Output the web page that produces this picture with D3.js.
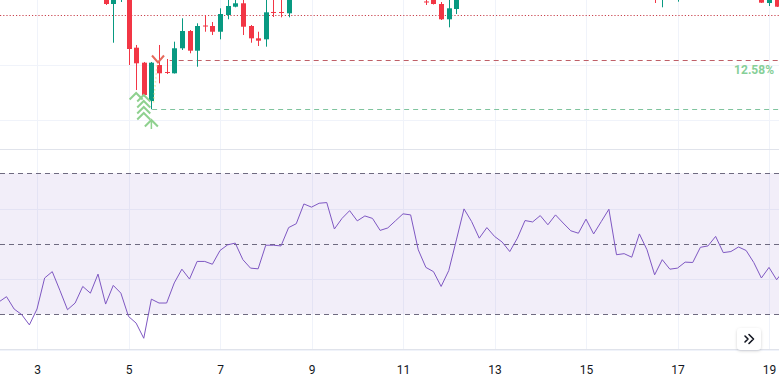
<!DOCTYPE html>
<html><head><meta charset="utf-8">
<script src="https://cdn.jsdelivr.net/npm/d3@7/dist/d3.min.js"></script>
<style>html,body{margin:0;padding:0;background:#fff;overflow:hidden}svg{display:block}</style>
</head><body>
<script>
// ---- data ----
const xTickDays = [3, 5, 7, 9, 11, 13, 15, 17, 19];
const rsiValues = [33.5,35.0,31.5,29.9,27.0,31.5,40.3,42.1,36.8,31.3,33.2,37.9,36.0,41.4,32.9,38.2,36.0,29.4,27.5,23.2,
34.3,33.2,33.2,38.9,42.8,40.0,45.0,45.0,44.2,48.1,49.7,50.2,45.5,43.1,42.9,49.6,49.6,49.4,54.6,55.7,
61.3,60.4,61.5,61.7,54.2,57.2,59.4,56.5,57.9,57.2,53.8,54.5,56.5,58.5,58.2,48.3,43.3,42.1,37.9,42.4,
51.1,59.9,56.3,51.6,54.6,52.1,50.5,47.8,51.6,56.6,56.2,58.0,55.4,58.2,55.9,53.7,53.0,57.0,52.8,56.3,
59.8,46.9,47.2,46.2,52.8,48.3,41.2,45.5,42.8,43.1,44.8,44.7,49.0,49.4,52.1,47.5,47.8,49.1,48.1,44.7,
40.3,43.3,39.8,42.6];
const rsiLevels = [70, 50, 30];
const rsiGrid = [60, 40, 20];
const priceGrid = [25, 26];
const candleIdx = [14,15,16,17,18,19,20,21,22,23,24,25,26,27,28,29,30,31,32,33,34,35,36,37,38,56,57,58,59,60,86,87,89,100,101,102];
const opens  = [27.273,27.109,27.327,27.273,26.315,26.042,25.345,26.000,25.873,25.849,26.304,26.618,26.260,26.718,26.709,26.605,26.909,27.060,27.122,26.709,26.485,26.467,26.964,26.964,26.940,27.155,27.236,27.109,26.831,27.018,27.455,27.327,27.364,27.291,27.127,27.255];
const highs  = [27.364,27.400,27.545,27.364,26.364,26.055,26.055,26.364,26.109,26.424,26.849,26.636,26.758,26.909,26.782,27.031,27.236,27.200,27.236,26.727,26.605,27.236,27.218,27.218,27.327,27.273,27.327,27.145,27.218,27.364,27.545,27.545,27.545,27.364,27.364,27.327];
const lows   = [27.091,26.405,27.145,26.000,25.545,25.418,25.195,25.667,25.836,25.845,26.273,26.213,25.969,26.605,26.545,26.467,26.831,27.049,26.545,26.405,26.345,26.333,26.873,26.867,26.867,27.091,27.100,26.818,26.685,26.927,27.127,27.049,27.151,27.127,27.073,27.055];
const closes = [27.109,27.291,27.455,26.291,26.031,25.455,26.042,25.849,25.855,26.304,26.618,26.260,26.709,26.700,26.605,26.927,27.073,27.122,26.696,26.485,26.442,26.958,26.951,26.951,27.255,27.145,27.109,26.831,27.031,27.291,27.327,27.455,27.509,27.133,27.273,27.060];
const lastPrice = 26.909;
const levelLines = [{price: 26.085, from: 22.4, color: "#bf5f68"}, {price: 25.195, from: 20.1, color: "#7fc49e"}];
const levelLabel = "12.58%";
const buySignals = [{i: 18, p: 25.436}, {i: 19, p: 25.40}, {i: 19, p: 25.291}, {i: 19, p: 25.182}, {i: 19, p: 25.073}, {i: 20, p: 24.945}];
const sellSignals = [{i: 21, p: 26.10}];

// ---- layout ----
const W = 779, H = 377;
const paneSplit = 149.5, axisTop = 350;
const t0 = Date.UTC(2024, 2, 2, 4), barMs = 4 * 3600e3;
const tOf = i => new Date(t0 + i * barMs);

const x = d3.scaleUtc().domain([new Date(Date.UTC(2024, 2, 3)), new Date(Date.UTC(2024, 2, 19))]).range([37, 769]);
const yP = d3.scaleLinear().domain([25, 26]).range([120, 65]);
const yR = d3.scaleLinear().domain([30, 70]).range([314.3, 173.3]);

const svg = d3.select("body").append("svg").attr("width", W).attr("height", H)
  .style("font-family", "Roboto, 'Liberation Sans', sans-serif");
svg.append("rect").attr("width", W).attr("height", H).attr("fill", "#fff");

const defs = svg.append("defs");
defs.append("clipPath").attr("id", "cTop").append("rect").attr("x", 0).attr("y", 0).attr("width", W).attr("height", paneSplit);
defs.append("clipPath").attr("id", "cRsi").append("rect").attr("x", 0).attr("y", paneSplit).attr("width", W).attr("height", axisTop - paneSplit);
const flt = defs.append("filter").attr("id", "sh").attr("x", "-50%").attr("y", "-50%").attr("width", "200%").attr("height", "200%");
flt.append("feDropShadow").attr("dx", 0).attr("dy", 1).attr("stdDeviation", 1.5).attr("flood-color", "#000").attr("flood-opacity", 0.18);

const tickDates = xTickDays.map(d => new Date(Date.UTC(2024, 2, d)));
const gridColor = "#f0f3fa";

// vertical grid
svg.append("g").selectAll("line").data(tickDates).join("line")
  .attr("x1", d => Math.round(x(d)) + 0.5).attr("x2", d => Math.round(x(d)) + 0.5)
  .attr("y1", 0).attr("y2", axisTop).attr("stroke", gridColor);

// price grid
svg.append("g").selectAll("line").data(priceGrid).join("line")
  .attr("x1", 0).attr("x2", W).attr("y1", d => Math.round(yP(d)) + 0.5).attr("y2", d => Math.round(yP(d)) + 0.5)
  .attr("stroke", gridColor);

// rsi grid
svg.append("g").selectAll("line").data(rsiGrid).join("line")
  .attr("x1", 0).attr("x2", W).attr("y1", d => Math.round(yR(d)) + 0.5).attr("y2", d => Math.round(yR(d)) + 0.5)
  .attr("stroke", gridColor);

// pane separators
svg.append("line").attr("x1", 0).attr("x2", W).attr("y1", paneSplit).attr("y2", paneSplit).attr("stroke", "#e0e3eb");
svg.append("line").attr("x1", 0).attr("x2", W).attr("y1", axisTop - 0.5).attr("y2", axisTop - 0.5).attr("stroke", "#e0e3eb");

// ---- top pane ----
const topG = svg.append("g").attr("clip-path", "url(#cTop)");
topG.append("line").attr("x1", 0).attr("x2", W).attr("y1", Math.round(yP(lastPrice)) + 0.5).attr("y2", Math.round(yP(lastPrice)) + 0.5)
  .attr("stroke", "#c9444f").attr("stroke-dasharray", "1.2,2").attr("stroke-width", 1);

levelLines.forEach(l => {
  topG.append("line").attr("x1", x(tOf(l.from))).attr("x2", W)
    .attr("y1", Math.round(yP(l.price)) + 0.5).attr("y2", Math.round(yP(l.price)) + 0.5)
    .attr("stroke", l.color).attr("stroke-dasharray", "5,4").attr("stroke-width", 1);
});
topG.append("text").attr("x", 774).attr("y", 74).attr("text-anchor", "end")
  .attr("font-size", 12).attr("font-weight", "bold").attr("fill", "#86cf98").text(levelLabel);

const candles = candleIdx.map((k, j) => ({k, o: opens[j], h: highs[j], l: lows[j], c: closes[j]}));
const cg = topG.append("g").selectAll("g").data(candles).join("g");
const colorOf = d => d.c >= d.o ? "#089981" : "#f23645";
cg.append("line").attr("x1", d => Math.round(x(tOf(d.k))) + 0.5).attr("x2", d => Math.round(x(tOf(d.k))) + 0.5)
  .attr("y1", d => yP(d.h)).attr("y2", d => yP(d.l)).attr("stroke", colorOf);
cg.append("rect").attr("x", d => Math.round(x(tOf(d.k))) - 2).attr("width", 5)
  .attr("y", d => yP(Math.max(d.o, d.c)))
  .attr("height", d => Math.max(1, Math.abs(yP(d.o) - yP(d.c))))
  .attr("fill", colorOf);

// dotted connector
topG.append("line").attr("x1", x(tOf(sellSignals[0].i)) - 2).attr("y1", yP(sellSignals[0].p) + 6)
  .attr("x2", x(tOf(buySignals[5].i)) + 2).attr("y2", yP(buySignals[3].p) - 6)
  .attr("stroke", "#e8dc7a").attr("stroke-width", 1.5).attr("stroke-dasharray", "1,3");

// buy chevrons
topG.append("g").selectAll("path").data(buySignals).join("path")
  .attr("d", d => {
    const cx = x(tOf(d.i)), cy = yP(d.p);
    return `M${cx - 6.5},${cy + 3.5}L${cx},${cy - 3}L${cx + 6.5},${cy + 3.5}`;
  })
  .attr("fill", "none").attr("stroke", "#8fd18f").attr("stroke-width", 2).attr("stroke-linejoin", "miter");
topG.append("g").selectAll("line").data([buySignals[5]]).join("line")
  .attr("x1", d => x(tOf(d.i))).attr("x2", d => x(tOf(d.i)))
  .attr("y1", d => yP(d.p) - 2).attr("y2", d => yP(d.p) + 6).attr("stroke", "#8fd18f").attr("stroke-width", 1.5);

// sell chevron
topG.append("g").selectAll("path").data(sellSignals).join("path")
  .attr("d", d => {
    const cx = x(tOf(d.i)) - 1, cy = yP(d.p);
    return `M${cx - 6},${cy - 4}L${cx},${cy + 3}L${cx + 6},${cy - 4}`;
  })
  .attr("fill", "none").attr("stroke", "#e66a5c").attr("stroke-width", 2);

// ---- rsi pane ----
const rp = svg.append("g").attr("clip-path", "url(#cRsi)");
rp.append("rect").attr("x", 0).attr("width", W).attr("y", yR(70)).attr("height", yR(30) - yR(70))
  .attr("fill", "rgba(126,87,194,0.1)");
rp.append("g").selectAll("line").data(rsiLevels).join("line")
  .attr("x1", 0).attr("x2", W).attr("y1", d => Math.round(yR(d)) + 0.5).attr("y2", d => Math.round(yR(d)) + 0.5)
  .attr("stroke", "#6e6a80").attr("stroke-dasharray", "5,4");
rp.append("path").datum(rsiValues)
  .attr("d", d3.line().x((v, i) => x(tOf(i))).y(v => yR(v)))
  .attr("fill", "none").attr("stroke", "#7e57c2").attr("stroke-width", 1);

// ---- time axis ----
const ax = d3.axisBottom(x).tickValues(tickDates).tickFormat(d3.utcFormat("%-d")).tickSize(0).tickPadding(0);
const axg = svg.append("g").attr("transform", `translate(0,${axisTop})`).call(ax);
axg.select(".domain").remove();
axg.selectAll("text").attr("y", 23.5).attr("dy", 0).attr("font-size", 12).attr("fill", "#131722")
  .style("font-family", "Roboto, 'Liberation Sans', sans-serif");

// ---- scroll button ----
const btn = svg.append("g").attr("transform", "translate(737,328)");
btn.append("rect").attr("width", 24).attr("height", 22).attr("rx", 4).attr("fill", "#fff").attr("filter", "url(#sh)");
btn.append("path").attr("d", "M8,8L11,11L8,14 M12,6.5L16.5,11L12,15.5")
  .attr("fill", "none").attr("stroke", "#131722").attr("stroke-width", 1.6).attr("stroke-linecap", "round").attr("stroke-linejoin", "round");
</script>
</body></html>
